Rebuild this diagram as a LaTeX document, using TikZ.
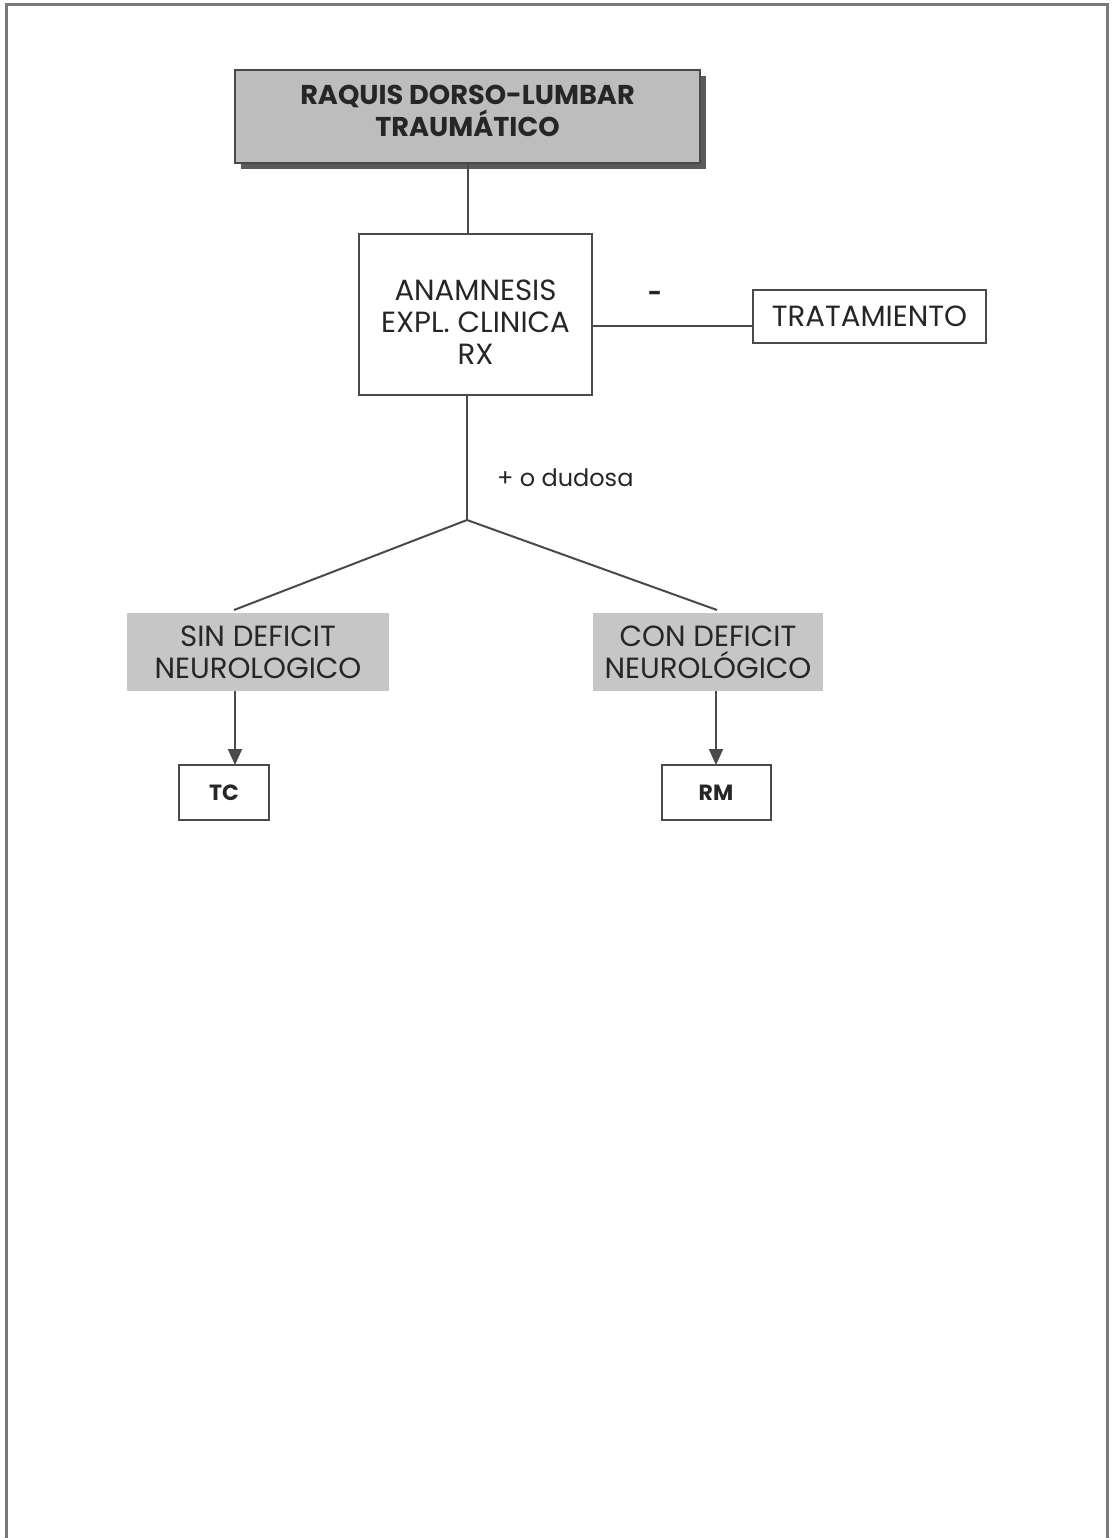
\documentclass[tikz,border=0pt]{standalone}
\usepackage{fontspec}
\setmainfont{Poppins}
\usetikzlibrary{arrows.meta,calc}
\definecolor{headgray}{HTML}{BDBDBD}
\definecolor{boxgray}{HTML}{C6C6C6}
\definecolor{rulegray}{HTML}{7A7A7A}
\definecolor{edgegray}{HTML}{4A4A4A}
\definecolor{shadowgray}{HTML}{5A5A5A}
\begin{document}
\begin{tikzpicture}[x=0.5pt,y=-0.5pt,
  every node/.style={inner sep=0pt,outer sep=0pt,align=center,text=black!85},
  headbox/.style={draw=edgegray,line width=1pt,fill=headgray,
    minimum width=232.5pt,minimum height=46.5pt},
  headtext/.style={font=\fontsize{13.6}{16}\selectfont\bfseries},
  plainbox/.style={draw=edgegray,line width=1pt,fill=white,font=\fontsize{14.6}{16}\selectfont},
  graybox/.style={fill=boxgray,font=\fontsize{14.6}{16}\selectfont,minimum height=39pt},
  smallbox/.style={draw=edgegray,line width=1pt,fill=white,
    minimum height=27.5pt,font=\fontsize{11}{13}\selectfont\bfseries},
  link/.style={draw=edgegray,line width=1pt},
  arr/.style={link,-{Triangle[width=7pt,length=8pt]}},
  lbl/.style={font=\fontsize{12}{15}\selectfont}]
\useasboundingbox (0,0) rectangle (1112,1538);
% page frame, open at the bottom
\draw[rulegray,line width=1.5pt] (6,1538) -- (6,4) -- (1107,4) -- (1107,1538);

% title box with drop shadow
\fill[shadowgray] (241,76) rectangle (706,169);
\node[headbox] (top) at (467.5,116.5) {};
\node[headtext] (toptext) at (467.5,111) {RAQUIS DORSO-LUMBAR\\TRAUMÁTICO};

\node[plainbox,minimum width=116.5pt,minimum height=80.5pt] (ana) at (475.5,314.5) {};
\node[font=\fontsize{14.6}{16}\selectfont] (anatext) at (475.5,322) {ANAMNESIS\\EXPL. CLINICA\\RX};
\node[plainbox,minimum width=116.5pt,minimum height=26.5pt] (trat) at (869.5,316.5) {TRATAMIENTO};

\node[graybox,minimum width=131pt] (sin) at (258,652) {SIN DEFICIT\\NEUROLOGICO};
\node[graybox,minimum width=115pt] (con) at (708,652) {CON DEFICIT\\NEUROLÓGICO};

\node[smallbox,minimum width=45pt] (tc) at (224,792.5) {TC};
\node[smallbox,minimum width=54.5pt] (rm) at (716,792.5) {RM};

% connectors
\draw[link] (top.south) -- (top.south |- ana.north);
\coordinate (anaout) at ($(ana.east)+(0,11)$);
\draw[link] (anaout) -- (anaout -| trat.west);
\node[lbl,font=\fontsize{12}{15}\selectfont\bfseries] (neg) at (655,296) {-};

\coordinate (fork) at (467,520);
\draw[link] (fork |- ana.south) -- (fork);
\node[lbl,anchor=west] (pos) at (497,478) {+ o dudosa};

\coordinate (sinin) at (234,610);
\coordinate (conin) at (717,610);
\draw[link] (sinin) -- (fork) -- (conin);

\coordinate (tcin) at ($(tc.north)+(11,0)$);
\draw[arr] (sin.south -| tcin) -- (tcin);
\draw[arr] (con.south -| rm.north) -- (rm.north);
\end{tikzpicture}
\end{document}
